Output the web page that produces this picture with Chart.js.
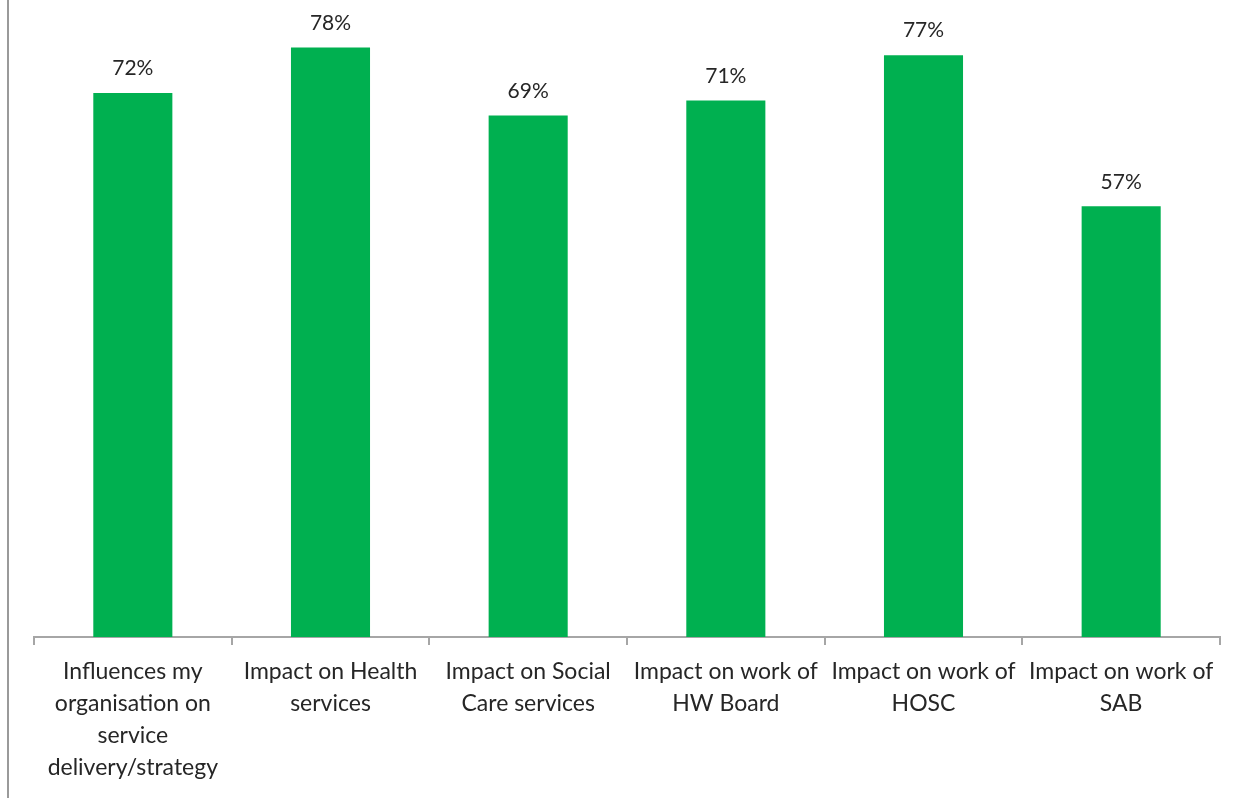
<!DOCTYPE html>
<html>
<head>
<meta charset="utf-8">
<title>Impact chart</title>
<script src="https://cdn.jsdelivr.net/npm/chart.js@4.4.1/dist/chart.umd.min.js"></script>
<style>
  html, body { margin: 0; padding: 0; background: #fff; }
  #wrap { position: relative; width: 1236px; height: 798px; }
  #frame { position: absolute; left: 7px; top: 0; width: 2px; height: 798px; background: #9a9a9a; }
</style>
</head>
<body>
<div id="wrap">
  <div id="frame"></div>
  <canvas id="chart" width="1236" height="798"></canvas>
</div>
<script>
// Categorias (quebras de linha como no original)
const categorias = [
    ['Influences my', 'organisation on', 'service', 'delivery/strategy'],
    ['Impact on Health', 'services'],
    ['Impact on Social', 'Care services'],
    ['Impact on work of', 'HW Board'],
    ['Impact on work of', 'HOSC'],
    ['Impact on work of', 'SAB']
];

// Percentuais
const valores = [72, 78, 69, 71, 77, 57];

const corBarra = '#00B050';
const corTexto = '#262626';
const fonte = "Lato, 'Open Sans', sans-serif";

// Rótulos de valor acima das barras
const rotulosPlugin = {
    id: 'rotulos',
    afterDatasetsDraw(chart) {
        const ctx = chart.ctx;
        const meta = chart.getDatasetMeta(0);
        ctx.save();
        ctx.font = `21px ${fonte}`;
        ctx.fillStyle = corTexto;
        ctx.textAlign = 'center';
        ctx.textBaseline = 'bottom';
        meta.data.forEach((bar, i) => {
            ctx.fillText(valores[i] + '%', bar.x, bar.y - 14);
        });
        ctx.restore();
    }
};

new Chart(document.getElementById('chart'), {
    type: 'bar',
    data: {
        labels: categorias,
        datasets: [{
            data: valores,
            backgroundColor: corBarra,
            borderWidth: 0,
            categoryPercentage: 1,
            barPercentage: 0.4
        }]
    },
    options: {
        responsive: false,
        animation: false,
        layout: { padding: { left: 34, right: 16, top: 0, bottom: 0 } },
        plugins: {
            legend: { display: false },
            tooltip: { enabled: false }
        },
        scales: {
            y: {
                display: false,
                min: 0,
                max: 84.3
            },
            x: {
                afterFit: (axis) => { axis.height = 161; },
                grid: {
                    offset: true,
                    drawOnChartArea: false,
                    drawTicks: true,
                    tickLength: 8,
                    color: '#a6a6a6',
                    lineWidth: 2
                },
                border: { color: '#a6a6a6', width: 2 },
                ticks: {
                    color: corTexto,
                    font: { family: fonte, size: 23, lineHeight: 1.39 },
                    padding: 11,
                    maxRotation: 0,
                    autoSkip: false
                }
            }
        }
    },
    plugins: [rotulosPlugin]
});
</script>
</body>
</html>
